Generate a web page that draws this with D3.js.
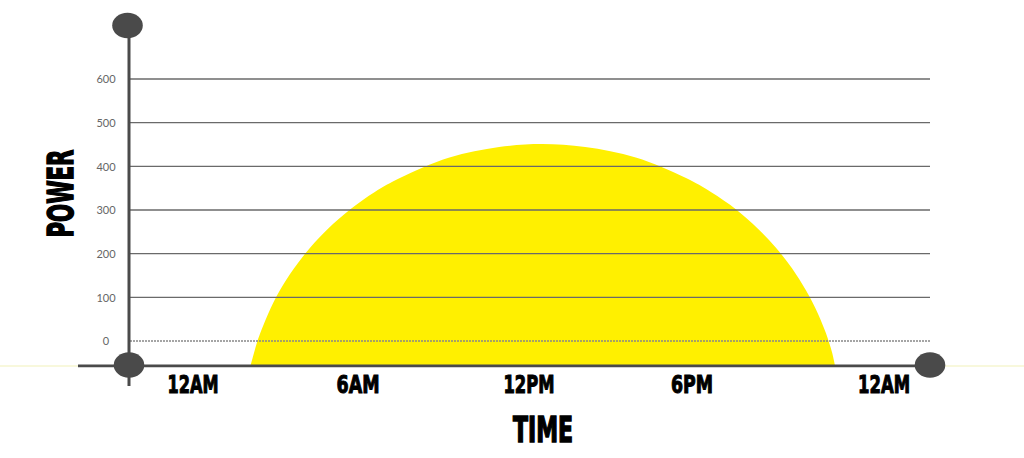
<!DOCTYPE html>
<html>
<head>
<meta charset="utf-8">
<script src="https://cdn.jsdelivr.net/npm/d3@7"></script>
<style>
  html, body { margin: 0; padding: 0; background: #ffffff; }
  svg { display: block; }
</style>
</head>
<body>
<svg id="chart" width="1024" height="458"></svg>
<script>
// ---- data ----
const timeTicks = [0, 6, 12, 18, 24];
const timeLabels = ["12AM", "6AM", "12PM", "6PM", "12AM"];
const powerTicks = [0, 100, 200, 300, 400, 500, 600];
const powerFloor = -57;
// solar power curve (hours, power)
const sunHours = [2.09, 2.22, 2.33, 2.44, 2.73, 3.16, 3.67, 4.25, 4.91, 5.71, 6.59, 7.47, 9.21, 10.95, 12.48,
                  14.07, 15.93, 17.78, 18.59, 19.38, 20.06, 20.63, 21.13, 21.56, 21.94, 22.19, 22.28, 22.38, 22.47];
const sunPower = [-57, -27, -3, 17, 62, 116, 166, 213, 257, 301, 341, 373, 420, 444, 451,
                  444, 420, 373, 341, 301, 257, 213, 166, 116, 62, 17, -3, -27, -57];

// ---- scales ----
const svg = d3.select("#chart");
const x = d3.scaleLinear().domain(timeTicks).range([193, 358, 529, 692, 884]);
const y = d3.scaleLinear().domain([0, 600]).range([341, 79]);
const baseY = y(powerFloor);
const axisColor = "#4a4a4a";

// faint line across
svg.append("line").attr("x1", 0).attr("x2", 1024).attr("y1", baseY).attr("y2", baseY)
  .attr("stroke", "#f8f8dc").attr("stroke-width", 2);

// sun area
const sunData = sunHours.map((h, i) => ({h, p: sunPower[i]}));
const area = d3.area()
  .x(d => x(d.h))
  .y0(baseY)
  .y1(d => y(d.p))
  .curve(d3.curveCatmullRom.alpha(0.5));
svg.append("path").datum(sunData).attr("d", area).attr("fill", "#fff000");

// gridlines
svg.append("g").selectAll("line").data(powerTicks).join("line")
  .attr("x1", 130).attr("x2", 930)
  .attr("y1", d => y(d)).attr("y2", d => y(d))
  .attr("stroke", d => d === 0 ? "#888" : "#6a6a6a")
  .attr("stroke-width", 1.4)
  .attr("stroke-dasharray", d => d === 0 ? "2,1" : null);

// y tick labels
svg.append("g").selectAll("text").data(powerTicks).join("text")
  .attr("x", 106).attr("y", d => y(d)).attr("dy", "0.38em")
  .attr("text-anchor", "middle")
  .attr("font-family", "Lato, 'Open Sans', sans-serif")
  .attr("font-size", 11).attr("fill", "#666")
  .text(d => d);

// axes lines
svg.append("line").attr("x1", 78).attr("x2", 930).attr("y1", baseY).attr("y2", baseY)
  .attr("stroke", axisColor).attr("stroke-width", 2.6);
svg.append("line").attr("x1", 129).attr("x2", 129).attr("y1", 25).attr("y2", 386)
  .attr("stroke", axisColor).attr("stroke-width", 3);

// end caps
const caps = [[127.5, 25.5], [129, 365], [930, 365]];
svg.append("g").selectAll("ellipse").data(caps).join("ellipse")
  .attr("cx", d => d[0]).attr("cy", d => d[1]).attr("rx", 15.3).attr("ry", 12.7)
  .attr("fill", axisColor);

// x labels
const condensed = "'Liberation Sans Narrow', 'DejaVu Sans Condensed', 'Arial Narrow', sans-serif";
const labelWidths = [51, 43, 51, 42, 52];
svg.append("g").selectAll("text").data(timeTicks).join("text")
  .attr("x", d => x(d)).attr("y", 393)
  .attr("text-anchor", "middle")
  .attr("font-family", condensed).attr("font-weight", "bold")
  .attr("font-size", 24).attr("fill", "#000")
  .attr("stroke", "#000").attr("stroke-width", 1)
  .attr("textLength", (d, i) => labelWidths[i]).attr("lengthAdjust", "spacingAndGlyphs")
  .text((d, i) => timeLabels[i]);

// axis titles
svg.append("text").attr("x", 543).attr("y", 442)
  .attr("text-anchor", "middle")
  .attr("font-family", condensed).attr("font-weight", "bold")
  .attr("font-size", 35).attr("fill", "#000")
  .attr("stroke", "#000").attr("stroke-width", 1.5)
  .attr("textLength", 60).attr("lengthAdjust", "spacingAndGlyphs")
  .text("TIME");

svg.append("text").attr("transform", "translate(73,193.5) rotate(-90)")
  .attr("text-anchor", "middle")
  .attr("font-family", condensed).attr("font-weight", "bold")
  .attr("font-size", 35).attr("fill", "#000")
  .attr("stroke", "#000").attr("stroke-width", 1.5)
  .attr("textLength", 88).attr("lengthAdjust", "spacingAndGlyphs")
  .text("POWER");
</script>
</body>
</html>
